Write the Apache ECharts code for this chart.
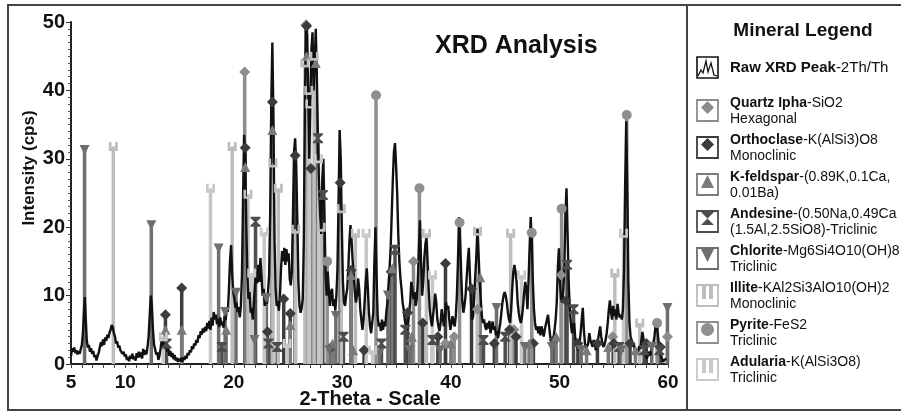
<!DOCTYPE html>
<html>
<head>
<meta charset="utf-8">
<script src="https://cdn.jsdelivr.net/npm/echarts@6/dist/echarts.min.js"></script>
<style>
  html, body { margin: 0; padding: 0; background: #fff; }
  #chart { width: 901px; height: 412px; }
</style>
</head>
<body>
<div id="chart"></div>
<script>
//=============== data =================
// raw XRD scan, [2theta, intensity]
var rawPeak = [
  [5.0,1.2],[5.1,2.3],[5.2,1.8],[5.3,2.4],[5.4,1.6],[5.5,2.0],[5.6,1.4],[5.7,1.9],[5.8,1.5],[5.9,2.2],
  [6.0,2.8],[6.1,4.5],[6.2,8],[6.28,9.8],[6.35,7],[6.45,3.5],[6.55,2.4],[6.65,2.8],[6.75,1.8],[6.85,2.3],
  [6.95,1.5],[7.05,1.9],[7.15,1.0],[7.25,1.3],[7.35,0.5],[7.45,1.2],[7.55,1.6],[7.65,2.4],[7.75,3.2],[7.85,2.6],
  [7.95,3.6],[8.05,2.8],[8.15,3.9],[8.25,3.4],[8.35,4.3],[8.45,3.8],[8.55,4.6],[8.65,5.0],[8.75,5.7],[8.85,5.4],
  [8.95,4.5],[9.05,4.0],[9.15,3.0],[9.25,3.3],[9.35,2.4],[9.45,2.7],[9.55,2.0],[9.65,2.2],[9.75,1.5],[9.85,1.8],
  [9.95,1.1],[10.05,1.4],[10.15,0.6],[10.25,1.0],[10.35,0.4],[10.45,1.2],[10.55,0.8],[10.65,1.5],[10.75,0.7],[10.85,1.1],
  [10.95,0.5],[11.05,1.6],[11.15,0.9],[11.25,1.8],[11.35,1.0],[11.45,1.7],[11.55,0.8],[11.65,2.2],[11.75,1.3],[11.85,2.0],
  [11.95,1.4],[12.05,2.5],[12.15,4],[12.25,7],[12.35,10],[12.45,8.5],[12.55,5],[12.65,2.8],[12.75,2.2],[12.85,1.4],
  [12.95,1.7],[13.05,0.6],[13.15,1.2],[13.25,2.2],[13.35,3.4],[13.45,2.6],[13.55,3.5],[13.65,2.2],[13.75,2.9],[13.85,1.8],
  [13.95,2.5],[14.05,1.2],[14.15,1.9],[14.25,1.0],[14.35,1.6],[14.45,0.7],[14.55,1.3],[14.65,0.5],[14.75,0.9],[14.85,0.3],
  [14.95,0.8],[15.05,0.4],[15.15,0.9],[15.25,0.3],[15.35,1.0],[15.45,0.6],[15.55,1.2],[15.65,0.8],[15.75,1.6],[15.85,1.3],
  [15.95,2.0],[16.05,1.7],[16.15,2.6],[16.25,2.2],[16.35,3.0],[16.45,2.7],[16.55,3.5],[16.65,3.1],[16.75,4.2],[16.85,3.8],
  [16.95,4.8],[17.05,4.3],[17.15,5.2],[17.25,4.6],[17.35,5.4],[17.45,4.8],[17.55,6.0],[17.65,5.2],[17.75,6.3],[17.85,5.0],
  [17.95,6.8],[18.05,5.6],[18.15,7.6],[18.25,6.5],[18.35,7.2],[18.45,5.8],[18.55,6.6],[18.65,5.4],[18.75,6.8],[18.85,5.7],
  [18.95,6.2],[19.05,5.3],[19.15,7.0],[19.25,6.4],[19.35,8.2],[19.45,7.6],[19.55,11],[19.65,15],[19.75,17.4],[19.85,13],
  [19.95,10.5],[20.05,9.5],[20.15,8.2],[20.25,9],[20.35,7.6],[20.45,8.3],[20.55,6.8],[20.65,8.5],[20.75,13],[20.85,24],
  [20.95,33.5],[21.05,30],[21.15,20],[21.25,13],[21.35,9.5],[21.45,10.5],[21.55,7.5],[21.65,8.2],[21.75,6.5],[21.85,9],
  [21.95,11.5],[22.05,13.5],[22.15,11.8],[22.25,14.5],[22.35,12],[22.45,15.5],[22.55,13],[22.65,10],[22.75,11],[22.85,8.5],
  [22.95,9.5],[23.05,8.8],[23.15,10.5],[23.25,13],[23.35,22],[23.45,38],[23.55,47],[23.65,36],[23.75,18],[23.85,11],
  [23.95,8.5],[24.05,9.2],[24.15,7.8],[24.25,10],[24.35,14],[24.45,16.5],[24.55,15],[24.65,17],[24.75,14.5],[24.85,16.8],
  [24.95,15],[25.05,16.2],[25.15,12.5],[25.25,11.5],[25.35,13.5],[25.45,22],[25.55,31],[25.65,33],[25.75,29],[25.85,21],
  [25.95,12],[26.05,8.5],[26.15,7.5],[26.25,8.2],[26.35,9.5],[26.45,18],[26.55,38],[26.65,49.5],[26.75,48],[26.85,40],
  [26.95,30],[27.05,38],[27.15,46],[27.25,48.5],[27.35,40],[27.45,44],[27.55,49],[27.65,42],[27.75,33],[27.85,26],
  [27.95,22],[28.05,19],[28.15,27],[28.25,30],[28.35,22],[28.45,13],[28.55,10],[28.65,13.5],[28.75,11],[28.85,8.5],
  [28.95,10.5],[29.05,11],[29.15,8.5],[29.25,9.5],[29.35,7.8],[29.45,10],[29.55,14],[29.65,24],[29.75,34.2],[29.85,30],
  [29.95,20],[30.05,12],[30.15,9],[30.25,8.5],[30.35,10],[30.45,11],[30.55,14],[30.65,18],[30.75,20.3],[30.85,18],
  [30.95,15],[31.05,13],[31.15,10.5],[31.25,9],[31.35,10],[31.45,12.5],[31.55,11],[31.65,8],[31.75,6.5],[31.85,5],
  [31.95,6.5],[32.05,9],[32.15,12],[32.25,14],[32.35,11],[32.45,7.5],[32.55,5.5],[32.65,4.5],[32.75,6],[32.85,7.5],
  [32.95,15],[33.05,20],[33.15,13],[33.25,7],[33.35,5.5],[33.45,6],[33.55,4.8],[33.65,6.5],[33.75,5],[33.85,6.2],
  [33.95,5.5],[34.05,7.5],[34.15,9],[34.25,11.5],[34.35,14],[34.45,17],[34.55,22],[34.65,27],[34.75,31],[34.85,32.3],
  [34.95,29],[35.05,25],[35.15,19],[35.25,15],[35.35,12.5],[35.45,11],[35.55,9],[35.65,8],[35.75,6.5],[35.85,5.5],
  [35.95,5],[36.05,6],[36.15,7.5],[36.25,9],[36.35,12],[36.45,11],[36.55,9.5],[36.65,10.5],[36.75,8.5],[36.85,9.5],
  [36.95,12],[37.05,17],[37.15,21],[37.25,15],[37.35,10],[37.45,12],[37.55,15.5],[37.65,17.5],[37.75,18.4],[37.85,15],
  [37.95,11],[38.05,8],[38.15,6.5],[38.25,5.5],[38.35,7],[38.45,8.5],[38.55,10.3],[38.65,9],[38.75,6.5],[38.85,5.5],
  [38.95,4.8],[39.05,6],[39.15,8],[39.25,7],[39.35,5.5],[39.45,7],[39.55,9],[39.65,8],[39.75,8.5],[39.85,6.5],
  [39.95,5],[40.05,6],[40.15,7],[40.25,6],[40.35,5.5],[40.45,7],[40.55,10],[40.65,15],[40.75,21.5],[40.85,18],
  [40.95,13],[41.05,9],[41.15,7.5],[41.25,8.5],[41.35,10],[41.45,12.5],[41.55,15],[41.65,17],[41.75,13],[41.85,9],
  [41.95,6.5],[42.05,7],[42.15,10],[42.25,13],[42.35,16],[42.45,19.8],[42.55,16],[42.65,12],[42.75,9.5],[42.85,7],
  [42.95,6],[43.05,6.5],[43.15,5.5],[43.25,5],[43.35,6],[43.45,5.2],[43.55,6.3],[43.65,4.5],[43.75,5.5],[43.85,6.2],
  [43.95,5],[44.05,5.5],[44.15,4.2],[44.25,4.8],[44.35,3.8],[44.45,5],[44.55,6],[44.65,7.5],[44.75,9],[44.85,10],
  [44.95,10.5],[45.05,10],[45.15,9],[45.25,7.5],[45.35,6.5],[45.45,6],[45.55,8],[45.65,11],[45.75,13.5],[45.85,14.5],
  [45.95,13.5],[46.05,12],[46.15,9],[46.25,7.5],[46.35,6.5],[46.45,6],[46.55,7],[46.65,8.5],[46.75,10.5],[46.85,12],
  [46.95,11],[47.05,8],[47.15,12],[47.25,17],[47.35,21.5],[47.45,18],[47.55,12],[47.65,8],[47.75,6],[47.85,5],
  [47.95,5.5],[48.05,4.5],[48.15,5.5],[48.25,4.2],[48.35,5.5],[48.45,4.8],[48.55,4],[48.65,5],[48.75,5.8],[48.85,6.5],
  [48.95,7.2],[49.05,5.5],[49.15,4],[49.25,3.5],[49.35,3],[49.45,3.8],[49.55,5],[49.65,6.5],[49.75,9],[49.85,14],
  [49.95,16.9],[50.05,12],[50.15,9.5],[50.25,9],[50.35,10.5],[50.45,14],[50.55,22],[50.65,25.7],[50.75,19],[50.85,12],
  [50.95,8],[51.05,6],[51.15,4.5],[51.25,5.5],[51.35,6],[51.45,4],[51.55,3],[51.65,2.5],[51.75,2],[51.85,3],
  [51.95,4.5],[52.05,6.5],[52.15,8.2],[52.25,5],[52.35,3],[52.45,2.2],[52.55,2],[52.65,3],[52.75,4.5],[52.85,3.5],
  [52.95,3],[53.05,2.5],[53.15,3.5],[53.25,3],[53.35,2],[53.45,2.5],[53.55,3.5],[53.65,4.5],[53.75,5.5],[53.85,4],
  [53.95,3],[54.05,2.5],[54.15,2.8],[54.25,3.5],[54.35,4.5],[54.45,6],[54.55,8],[54.65,9.3],[54.75,7.5],[54.85,6.5],
  [54.95,8.5],[55.05,7],[55.15,8],[55.25,6.5],[55.35,8.8],[55.45,7.5],[55.55,6.8],[55.65,7.2],[55.75,6.5],[55.85,8],
  [55.95,14],[56.05,26],[56.15,35.5],[56.25,26],[56.35,12],[56.45,6],[56.55,4],[56.65,3.5],[56.75,2.5],[56.85,3],
  [56.95,2],[57.05,1.5],[57.15,2.2],[57.25,1.8],[57.35,2.6],[57.45,2.2],[57.55,3.5],[57.65,4.7],[57.75,3.5],[57.85,2],
  [57.95,1.2],[58.05,0.8],[58.15,1.3],[58.25,1.8],[58.35,1.2],[58.45,2],[58.55,2.5],[58.65,3],[58.75,4],[58.85,5.5],
  [58.95,6],[59.05,4.5],[59.15,3],[59.25,2],[59.35,1.2],[59.45,0.8],[59.55,0.3],[59.65,0.6],[59.75,0.4],[59.85,0.8]
];

// reference peaks per mineral, [2theta, intensity]
var quartzPeaks = [[21.0,42.7],[26.65,49.6],[36.55,15],[39.5,3],[40.3,4],[42.45,8],[45.8,5],[50.15,13],[54.9,4],[59.95,4]];
var orthoclasePeaks = [[13.7,7.2],[15.2,11.1],[21.05,31.6],[23.55,38.3],[24.6,9.5],[25.2,7.4],[23.1,4.7],[25.65,30.5],
  [26.7,49.4],[27.1,28.6],[29.8,26.5],[30.8,13.7],[39.5,14.7],[34.5,13.5],[37.4,6],[38.8,4],[41.9,11],[44.0,3],
  [45.4,5],[46.0,4],[47.6,3],[49.5,3.5],[50.6,9.3],[51.7,3],[53.5,3],[55.0,3],[56.5,3],[58.0,3],[59.3,2.5],
  [32.0,2],[29.0,2.5],[36.0,7.5]];
var kfeldsparPeaks = [[13.7,5],[15.2,5],[19.3,5],[21.05,28.8],[23.55,34.2],[26.7,45],[27.55,44],[30.8,13],[34.6,14],
  [42.7,12.7],[29.1,3],[31.0,2],[36.4,4],[40.0,3],[47.2,3],[49.7,4],[52.5,2],[54.5,2.5],[57.0,2],[25.2,5.7]];
var andesinePeaks = [[13.8,3],[18.9,2.5],[22.0,20.8],[27.75,33],[28.2,24.7],[34.85,16.7],[23.2,3],[24.0,2.5],[30.1,4],
  [33.6,3],[35.8,5],[38.3,3.5],[43.0,3.5],[45.0,4],[50.7,14.5],[51.3,8],[55.5,2.5],[57.8,2],[59.2,2]];
var chloritePeaks = [[6.25,31.3],[12.4,20.3],[18.6,16.9],[19.2,7.6],[20.2,10.4],[21.9,3.5],[23.0,9.6],[28.8,2],[29.4,7],
  [33.4,1.5],[36.2,2],[39.0,2],[44.2,8.2],[46.8,2.5],[49.3,2.5],[52.0,2],[55.7,2],[59.95,8.2],[58.5,2.5],[34.2,10]];
var illitePeaks = [[8.9,31.8],[19.85,31.8],[21.3,24.8],[23.6,29.4],[24.1,25.7],[25.7,19.7],[26.55,44],[26.9,40],[27.4,45],
  [28.05,20],[29.9,22.7],[31.2,19.1],[37.75,19.1],[42.45,19.4],[45.5,19.1],[55.1,13.3],[57.4,6]];
var pyritePeaks = [[28.6,15],[33.1,39.3],[37.1,25.7],[40.8,20.7],[47.45,19.2],[50.2,22.7],[56.2,36.4],[59.0,6]];
var adulariaPeaks = [[17.85,25.7],[21.65,13.3],[22.8,19.3],[27.0,38],[27.8,30],[32.2,19.1],[38.3,13],[46.5,13],
  [55.9,19.1],[13.5,4],[24.9,3],[32.8,2]];

var xTickLabels = [5, 10, 20, 30, 40, 50, 60];
var yTickLabels = [0, 10, 20, 30, 40, 50];

//=============== styles =================
var FONT = 'Liberation Sans, Arial, sans-serif';
var SYM_U = 'path://M0,0 H3 V7 H7 V0 H10 V10 H0 Z';
var SYM_HOUR = 'path://M0,0 H10 V1.5 L6,5 L10,8.5 V10 H0 V8.5 L4,5 L0,1.5 Z';

var minerals = [
  {name: 'Quartz Ipha', formula: '-SiO2', sub: 'Hexagonal', data: quartzPeaks, color: '#8c8c8c', symbol: 'diamond', rotate: 0, size: 11},
  {name: 'Orthoclase', formula: '-K(AlSi3)O8', sub: 'Monoclinic', data: orthoclasePeaks, color: '#3c3c3c', symbol: 'diamond', rotate: 0, size: 11},
  {name: 'K-feldspar', formula: '-(0.89K,0.1Ca,', sub: '0.01Ba)', data: kfeldsparPeaks, color: '#7a7a7a', symbol: 'triangle', rotate: 0, size: 10},
  {name: 'Andesine', formula: '-(0.50Na,0.49Ca', sub: '(1.5Al,2.5SiO8)-Triclinic', data: andesinePeaks, color: '#4d4d4d', symbol: SYM_HOUR, rotate: 0, size: 10},
  {name: 'Chlorite', formula: '-Mg6Si4O10(OH)8', sub: 'Triclinic', data: chloritePeaks, color: '#6e6e6e', symbol: 'triangle', rotate: 180, size: 10},
  {name: 'Illite', formula: '-KAl2Si3AlO10(OH)2', sub: 'Monoclinic', data: illitePeaks, color: '#bdbdbd', symbol: SYM_U, rotate: 0, size: 9},
  {name: 'Pyrite', formula: '-FeS2', sub: 'Triclinic', data: pyritePeaks, color: '#8f8f8f', symbol: 'circle', rotate: 0, size: 10},
  {name: 'Adularia', formula: '-K(AlSi3O8)', sub: 'Triclinic', data: adulariaPeaks, color: '#c8c8c8', symbol: SYM_U, rotate: 0, size: 9}
];

var xTicks = [];
for (var t = 5; t <= 60; t++) xTicks.push(t);

//=============== series =================
var series = [];
minerals.forEach(function (m) {
  series.push({
    type: 'custom',
    name: m.name,
    z: 1,
    silent: true,
    data: m.data,
    renderItem: function (params, api) {
      var top = api.coord([api.value(0), api.value(1)]);
      var base = api.coord([api.value(0), 0]);
      return {
        type: 'line',
        shape: {x1: top[0], y1: top[1], x2: base[0], y2: base[1]},
        style: {stroke: m.color, lineWidth: 3.5}
      };
    }
  });
});
series.push({
  type: 'line',
  name: 'Raw XRD Peak',
  z: 2,
  data: rawPeak,
  showSymbol: false,
  lineStyle: {color: '#111', width: 2.4},
  silent: true
});
minerals.forEach(function (m) {
  series.push({
    type: 'scatter',
    name: m.name + ' mark',
    z: 3,
    data: m.data,
    symbol: m.symbol,
    symbolRotate: m.rotate,
    symbolSize: m.size,
    itemStyle: {color: m.color, opacity: 1},
    silent: true
  });
});

//=============== frame, axis names, legend panel (graphic) =================
var graphics = [
  {type: 'rect', shape: {x: 8, y: 5, width: 900, height: 405}, style: {fill: 'none', stroke: '#444', lineWidth: 2}},
  {type: 'line', shape: {x1: 687, y1: 5, x2: 687, y2: 410}, style: {stroke: '#444', lineWidth: 2}},
  {type: 'text', x: 29, y: 168, rotation: Math.PI / 2,
    style: {text: 'Intensity (cps)', font: 'bold 17px ' + FONT, fill: '#111', align: 'center', verticalAlign: 'middle'}},
  {type: 'text', x: 370, y: 399,
    style: {text: '2-Theta - Scale', font: 'bold 20px ' + FONT, fill: '#111', align: 'center', verticalAlign: 'middle'}},
  {type: 'text', x: 803, y: 31, style: {text: 'Mineral Legend', font: 'bold 19px ' + FONT, fill: '#111', align: 'center', verticalAlign: 'middle'}},
  // raw peak icon
  {type: 'rect', shape: {x: 697, y: 57, width: 21, height: 21}, style: {fill: '#fff', stroke: '#111', lineWidth: 1.6}},
  {type: 'polyline', shape: {points: [[698, 76], [701, 70], [703, 73], [706, 61], [708, 72], [711, 63], [714, 75], [717, 76]]}, style: {stroke: '#111', lineWidth: 1.3, fill: 'none'}},
  {type: 'text', x: 730, y: 68, style: {text: '{b|Raw XRD Peak}-2Th/Th', font: '15px ' + FONT, fill: '#111', verticalAlign: 'middle',
    rich: {b: {font: 'bold 15px ' + FONT, fill: '#111'}}}}
];
minerals.forEach(function (m, i) {
  var y0 = 103 + i * 37;
  graphics.push({type: 'rect', shape: {x: 697, y: y0 - 3, width: 21, height: 21}, style: {fill: '#fff', stroke: m.color, lineWidth: 1.8}});
  graphics.push({
    type: 'text', x: 730, y: y0 - 8,
    style: {
      text: '{b|' + m.name + '}' + m.formula + '\n' + m.sub,
      font: '14px ' + FONT, fill: '#111', lineHeight: 16,
      rich: {b: {font: 'bold 14px ' + FONT, fill: '#111', lineHeight: 16}}
    }
  });
});

var legendIcons = [
  {type: 'polygon', shape: {points: [[707.5, 101], [714, 107.5], [707.5, 114], [701, 107.5]]}},
  {type: 'polygon', shape: {points: [[707.5, 138], [714, 144.5], [707.5, 151], [701, 144.5]]}},
  {type: 'polygon', shape: {points: [[707.5, 175], [714, 188], [701, 188]]}},
  {type: 'polygon', shape: {points: [[701, 212], [714, 212], [707.5, 218.5], [714, 225], [701, 225], [707.5, 218.5]]}},
  {type: 'polygon', shape: {points: [[701, 249], [714, 249], [707.5, 262]]}},
  {type: 'group', children: [
    {type: 'rect', shape: {x: 702, y: 286, width: 4, height: 13}},
    {type: 'rect', shape: {x: 709, y: 286, width: 4, height: 13}}]},
  {type: 'circle', shape: {cx: 707.5, cy: 329.5, r: 6.5}},
  {type: 'group', children: [
    {type: 'rect', shape: {x: 702, y: 360, width: 4, height: 13}},
    {type: 'rect', shape: {x: 709, y: 360, width: 4, height: 13}}]}
];
legendIcons.forEach(function (g, i) {
  var c = minerals[i].color;
  if (g.children) {
    g.children.forEach(function (ch) { ch.style = {fill: c}; });
  } else {
    g.style = {fill: c};
  }
  graphics.push(g);
});

//=============== chart =================
var dom = document.getElementById('chart');
var myChart = echarts.init(dom, null, {renderer: 'canvas'});
var option = {
  animation: false,
  backgroundColor: '#fff',
  textStyle: {fontFamily: FONT},
  title: {
    text: 'XRD Analysis',
    left: 430, top: 29,
    textStyle: {fontSize: 25, fontWeight: 'bold', color: '#111', fontFamily: FONT}
  },
  grid: {left: 71, right: 233, top: 22, bottom: 48, containLabel: false, outerBoundsMode: 'none'},
  xAxis: {
    type: 'value',
    min: 5, max: 60,
    axisLine: {lineStyle: {color: '#222', width: 2}},
    axisTick: {show: true, length: 4, customValues: xTicks, lineStyle: {color: '#444'}},
    axisLabel: {customValues: xTickLabels, fontSize: 19, fontWeight: 'bold', color: '#111', margin: 9},
    splitLine: {show: false}
  },
  yAxis: {
    type: 'value',
    min: 0, max: 50, interval: 10,
    axisLine: {show: true, lineStyle: {color: '#222', width: 2}},
    axisTick: {show: true, length: 5, lineStyle: {color: '#333'}},
    minorTick: {show: true, splitNumber: 10, length: 3, lineStyle: {color: '#555'}},
    axisLabel: {
      fontSize: 20, fontWeight: 'bold', color: '#111', margin: 6,
      formatter: function (v) { return yTickLabels.indexOf(v) >= 0 ? String(v) : ''; }
    },
    splitLine: {show: false}
  },
  graphic: graphics,
  series: series
};
myChart.setOption(option);
</script>
</body>
</html>
